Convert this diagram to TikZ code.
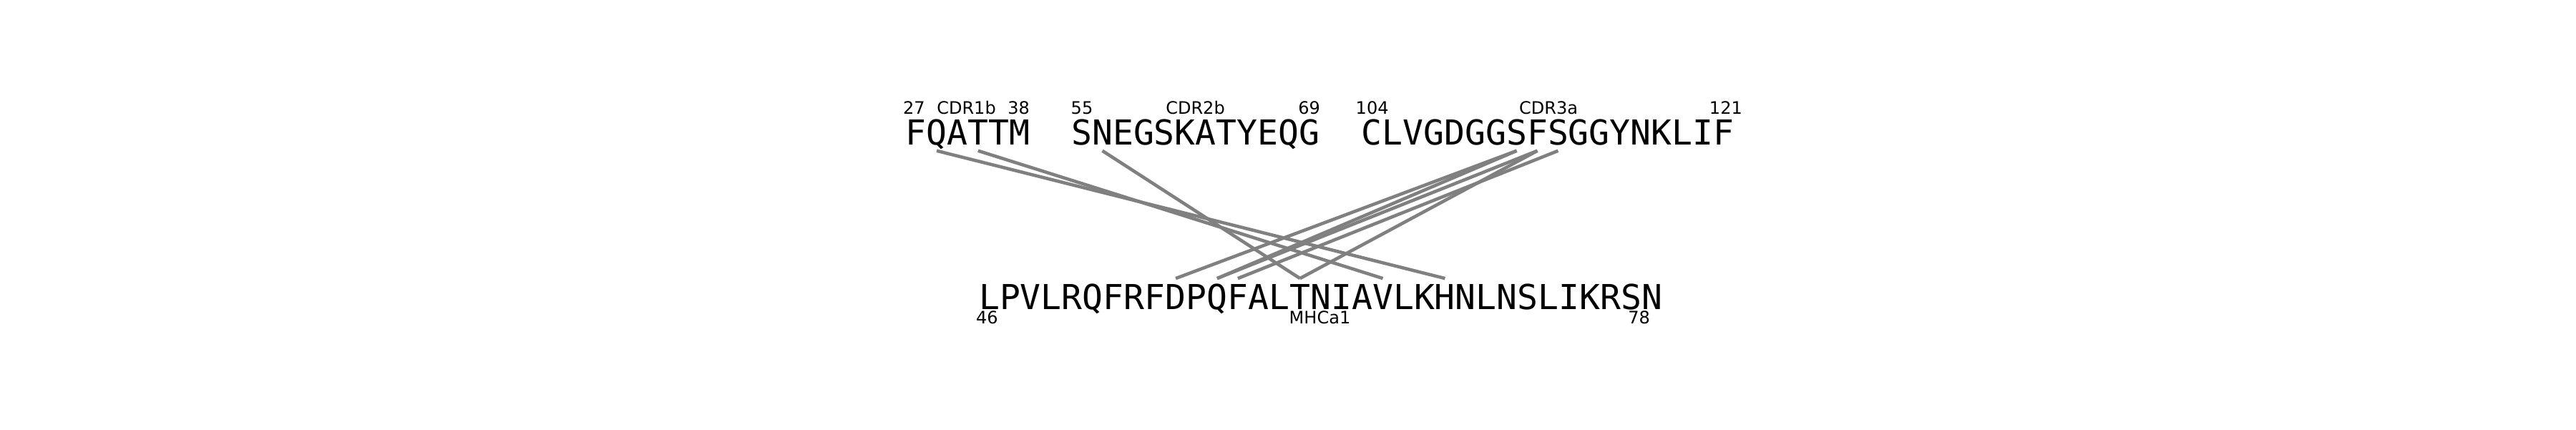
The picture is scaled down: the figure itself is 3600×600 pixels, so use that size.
\documentclass[tikz,border=0pt]{standalone}
\usepackage{fontspec}
\usepackage{tikz}
\newfontfamily\seqfont{DejaVu Sans Mono}
\newfontfamily\tagfont{DejaVu Sans}
\definecolor{linkgray}{RGB}{128,128,128}

\begin{document}
\begin{tikzpicture}[x=0.01cm, y=-0.01cm,
    res/.style={font=\seqfont\fontsize{13.66}{16}\selectfont, inner sep=0pt,
        text height=10pt, text depth=0pt, anchor=base},
    tag/.style={font=\tagfont\fontsize{6.83}{8}\selectfont, inner sep=0pt},
    link/.style={draw=linkgray, line width=1.3pt}]
\useasboundingbox (0,0) rectangle (3600,600);

% TCR residues (top row)
\foreach \c [count=\i from 0] in {F,Q,A,T,T,M}
    \node[res] (cdra\i) at (1280+28.95*\i, 202) {\c};
\foreach \c [count=\i from 0] in {S,N,E,G,S,K,A,T,Y,E,Q,G}
    \node[res] (cdrb\i) at (1511.6+28.95*\i, 202) {\c};
\foreach \c [count=\i from 0] in {C,L,V,G,D,G,G,S,F,S,G,G,Y,N,K,L,I,F}
    \node[res] (cdrc\i) at (1916.9+28.95*\i, 202) {\c};

% MHC residues (bottom row)
\foreach \c [count=\i from 0] in {L,P,V,L,R,Q,F,R,F,D,P,Q,F,A,L,T,N,I,A,V,L,K,H,N,L,N,S,L,I,K,R,S,N}
    \node[res] (mhc\i) at (1382.5+28.95*\i, 432) {\c};

% Labels
\node[tag, anchor=base west] (n27) at (1261.5,159) {27};
\node[tag, anchor=base] (cdr1b) at (1350.5,159) {CDR1b};
\node[tag, anchor=base east] (n38) at (1439.5,159) {38};
\node[tag, anchor=base west] (n55) at (1496,159) {55};
\node[tag, anchor=base] (cdr2b) at (1670.5,159) {CDR2b};
\node[tag, anchor=base east] (n69) at (1845.5,159) {69};
\node[tag, anchor=base west] (n104) at (1894,159) {104};
\node[tag, anchor=base] (cdr3a) at (2164,159) {CDR3a};
\node[tag, anchor=base east] (n121) at (2435.5,159) {121};
\node[tag, anchor=base west] (n46) at (1363.5,452) {46};
\node[tag, anchor=base] (mhca1) at (1844.5,452) {MHCa1};
\node[tag, anchor=base east] (n78) at (2306.5,452) {78};

% Contacts
\foreach \s/\t in {cdra1/22, cdra3/19, cdrb1/15, cdrc7/9, cdrc7/11, cdrc8/11, cdrc9/12, cdrc8/15}
    \draw[link] ([yshift=-0.08cm]\s.south) -- ([yshift=0.07cm]mhc\t.north);
\end{tikzpicture}
\end{document}
